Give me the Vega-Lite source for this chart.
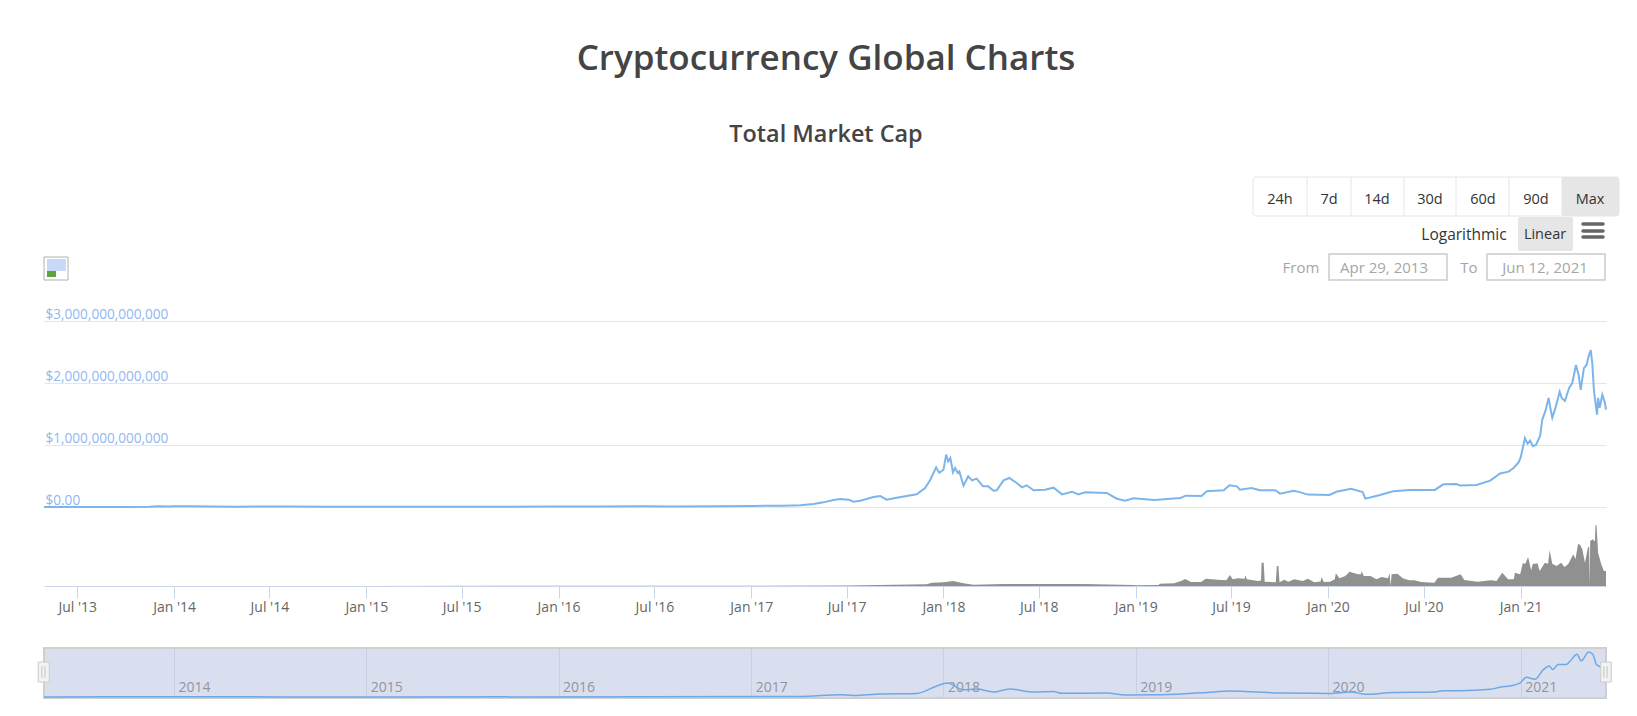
{
"$schema":"https://vega.github.io/schema/vega-lite/v6.json",
"background":"#ffffff",
"padding":{"left":36,"top":0,"right":0,"bottom":0},
"bounds":"flush",
"spacing":0,
"config":{"view":{"stroke":null},"font":"Open Sans","text":{"font":"Open Sans"}},
"datasets":{
"ui":[
{"k":"fill","c":26,"c2":32,"r":2,"r2":4},
{"k":"fill","c":23,"c2":27,"r":5,"r2":10},
{"k":"box","c":6,"c2":32,"r":2,"r2":4},
{"k":"div","c":9,"r":2,"r2":4},{"k":"div","c":11,"r":2,"r2":4},{"k":"div","c":14,"r":2,"r2":4},{"k":"div","c":17,"r":2,"r2":4},{"k":"div","c":22,"r":2,"r2":4},{"k":"div","c":26,"r":2,"r2":4},
{"k":"input","c":10,"c2":16,"r":11,"r2":17},
{"k":"input","c":21,"c2":31,"r":11,"r2":17},
{"k":"menu","c":28,"c2":30,"r":6},{"k":"menu","c":28,"c2":30,"r":7},{"k":"menu","c":28,"c2":30,"r":9},
{"k":"iconframe","c":0,"c2":4,"r":12,"r2":17},
{"k":"iconsky","c":1,"c2":3,"r":13,"r2":15},
{"k":"icongrass","c":1,"c2":2,"r":15,"r2":16},
{"k":"h1","t":"Cryptocurrency Global Charts","c":5,"r":0},
{"k":"h2","t":"Total Market Cap","c":5,"r":1},
{"k":"btn","t":"24h","c":7,"r":3},{"k":"btn","t":"7d","c":10,"r":3},{"k":"btn","t":"14d","c":12,"r":3},{"k":"btn","t":"30d","c":15,"r":3},{"k":"btn","t":"60d","c":20,"r":3},{"k":"btn","t":"90d","c":24,"r":3},{"k":"btn","t":"Max","c":29,"r":3},
{"k":"opt","t":"Logarithmic","c":18,"r":8},{"k":"btn","t":"Linear","c":25,"r":8},
{"k":"muted","t":"From","c":8,"r":14},{"k":"muted","t":"Apr 29, 2013","c":13,"r":14},{"k":"muted","t":"To","c":19,"r":14},{"k":"muted","t":"Jun 12, 2021","c":25,"r":14}
],
"spacer":[],
"cap":[
{"d":"2013-04-29","v":1.5e9},{"d":"2013-07-01","v":1.2e9},{"d":"2013-10-01","v":1.7e9},{"d":"2013-11-15","v":5e9},{"d":"2013-12-04","v":14e9},{"d":"2013-12-20","v":8e9},{"d":"2014-01-06","v":11e9},{"d":"2014-02-01","v":11e9},{"d":"2014-03-15","v":9e9},{"d":"2014-05-01","v":6e9},{"d":"2014-06-05","v":9e9},{"d":"2014-08-01","v":8e9},{"d":"2014-10-15","v":5e9},{"d":"2015-01-15","v":3e9},{"d":"2015-03-15","v":3.7e9},{"d":"2015-07-10","v":4.5e9},{"d":"2015-10-01","v":3.5e9},{"d":"2015-12-15","v":6.5e9},{"d":"2016-03-15","v":7e9},{"d":"2016-06-16","v":12e9},{"d":"2016-08-01","v":10e9},{"d":"2016-11-01","v":12e9},{"d":"2016-12-31","v":17e9},{"d":"2017-01-05","v":18e9},{"d":"2017-03-01","v":21e9},
{"d":"2017-04-04","v":0.027e12},{"d":"2017-04-29","v":0.05e12},{"d":"2017-05-18","v":0.075e12},{"d":"2017-06-06","v":0.113e12},{"d":"2017-06-19","v":0.13e12},{"d":"2017-07-05","v":0.118e12},{"d":"2017-07-14","v":0.086e12},{"d":"2017-07-27","v":0.1e12},{"d":"2017-08-21","v":0.16e12},{"d":"2017-09-03","v":0.177e12},{"d":"2017-09-15","v":0.118e12},{"d":"2017-10-04","v":0.15e12},{"d":"2017-10-23","v":0.177e12},{"d":"2017-11-11","v":0.204e12},{"d":"2017-11-27","v":0.306e12},{"d":"2017-12-07","v":0.44e12},{"d":"2017-12-18","v":0.64e12},{"d":"2017-12-24","v":0.55e12},{"d":"2018-01-01","v":0.6e12},{"d":"2018-01-06","v":0.844e12},{"d":"2018-01-10","v":0.737e12},{"d":"2018-01-14","v":0.79e12},{"d":"2018-01-19","v":0.56e12},{"d":"2018-01-23","v":0.63e12},{"d":"2018-01-28","v":0.55e12},{"d":"2018-01-31","v":0.575e12},{"d":"2018-02-08","v":0.344e12},{"d":"2018-02-17","v":0.495e12},{"d":"2018-02-24","v":0.43e12},{"d":"2018-03-05","v":0.457e12},{"d":"2018-03-17","v":0.333e12},{"d":"2018-03-27","v":0.333e12},{"d":"2018-04-06","v":0.263e12},{"d":"2018-04-12","v":0.27e12},{"d":"2018-04-25","v":0.43e12},{"d":"2018-05-06","v":0.468e12},{"d":"2018-05-20","v":0.387e12},{"d":"2018-05-30","v":0.317e12},{"d":"2018-06-08","v":0.35e12},{"d":"2018-06-21","v":0.27e12},{"d":"2018-07-13","v":0.28e12},{"d":"2018-07-29","v":0.312e12},{"d":"2018-08-14","v":0.204e12},{"d":"2018-09-02","v":0.247e12},{"d":"2018-09-14","v":0.204e12},{"d":"2018-09-27","v":0.237e12},{"d":"2018-11-07","v":0.226e12},{"d":"2018-11-26","v":0.134e12},{"d":"2018-12-12","v":0.102e12},{"d":"2018-12-28","v":0.14e12},{"d":"2019-02-05","v":0.113e12},{"d":"2019-03-27","v":0.145e12},{"d":"2019-04-06","v":0.183e12},{"d":"2019-05-06","v":0.177e12},{"d":"2019-05-16","v":0.253e12},{"d":"2019-06-17","v":0.27e12},{"d":"2019-06-28","v":0.35e12},{"d":"2019-07-12","v":0.333e12},{"d":"2019-07-18","v":0.28e12},{"d":"2019-08-09","v":0.306e12},{"d":"2019-08-25","v":0.27e12},{"d":"2019-09-23","v":0.27e12},{"d":"2019-10-02","v":0.215e12},{"d":"2019-10-28","v":0.26e12},
{"d":"2019-11-08","v":0.24e12},{"d":"2019-11-24","v":0.2e12},{"d":"2020-01-04","v":0.195e12},{"d":"2020-01-17","v":0.245e12},{"d":"2020-02-14","v":0.295e12},{"d":"2020-03-07","v":0.24e12},{"d":"2020-03-12","v":0.135e12},{"d":"2020-04-09","v":0.195e12},{"d":"2020-05-04","v":0.255e12},{"d":"2020-06-05","v":0.275e12},{"d":"2020-07-22","v":0.275e12},{"d":"2020-08-07","v":0.366e12},{"d":"2020-09-01","v":0.37e12},{"d":"2020-09-08","v":0.345e12},{"d":"2020-10-09","v":0.355e12},{"d":"2020-11-04","v":0.425e12},{"d":"2020-11-23","v":0.54e12},{"d":"2020-12-09","v":0.57e12},{"d":"2020-12-18","v":0.625e12},{"d":"2020-12-28","v":0.72e12},
{"d":"2021-01-01","v":0.8e12},{"d":"2021-01-04","v":0.91e12},{"d":"2021-01-09","v":1.11e12},{"d":"2021-01-14","v":1.02e12},{"d":"2021-01-19","v":1.07e12},{"d":"2021-01-24","v":0.98e12},{"d":"2021-01-30","v":1.0e12},{"d":"2021-02-07","v":1.15e12},{"d":"2021-02-11","v":1.41e12},{"d":"2021-02-17","v":1.55e12},{"d":"2021-02-23","v":1.76e12},{"d":"2021-02-27","v":1.57e12},{"d":"2021-03-02","v":1.44e12},{"d":"2021-03-07","v":1.57e12},{"d":"2021-03-12","v":1.73e12},{"d":"2021-03-16","v":1.86e12},{"d":"2021-03-20","v":1.76e12},{"d":"2021-03-26","v":1.71e12},{"d":"2021-04-03","v":1.92e12},{"d":"2021-04-09","v":2.0e12},{"d":"2021-04-16","v":2.29e12},{"d":"2021-04-21","v":2.13e12},{"d":"2021-04-25","v":1.89e12},{"d":"2021-05-01","v":2.24e12},{"d":"2021-05-06","v":2.29e12},{"d":"2021-05-10","v":2.43e12},{"d":"2021-05-14","v":2.53e12},{"d":"2021-05-17","v":2.32e12},{"d":"2021-05-20","v":1.89e12},{"d":"2021-05-23","v":1.68e12},{"d":"2021-05-26","v":1.49e12},{"d":"2021-05-28","v":1.76e12},{"d":"2021-05-31","v":1.6e12},{"d":"2021-06-05","v":1.81e12},{"d":"2021-06-10","v":1.68e12},{"d":"2021-06-12","v":1.57e12}
],
"vol":[
{"d":"2013-04-29","v":0.3},{"d":"2014-01-01","v":0.6},{"d":"2015-01-01","v":1},{"d":"2016-01-01","v":1.5},{"d":"2017-01-01","v":2},{"d":"2017-07-01","v":5},{"d":"2017-11-30","v":15},{"d":"2017-12-10","v":30},{"d":"2018-01-01","v":33},{"d":"2018-01-19","v":45},{"d":"2018-02-08","v":24},{"d":"2018-02-27","v":12},{"d":"2018-04-25","v":18},{"d":"2018-07-29","v":18},{"d":"2018-09-24","v":18},{"d":"2018-12-28","v":8},
{"d":"2019-01-01","v":6},{"d":"2019-02-14","v":8},{"d":"2019-02-15","v":21},{"d":"2019-03-15","v":24},{"d":"2019-03-28","v":45},{"d":"2019-04-05","v":63},{"d":"2019-04-16","v":36},{"d":"2019-05-05","v":36},{"d":"2019-05-14","v":66},{"d":"2019-06-06","v":57},{"d":"2019-06-22","v":51},{"d":"2019-06-29","v":99},{"d":"2019-07-04","v":60},{"d":"2019-07-14","v":69},{"d":"2019-07-27","v":66},{"d":"2019-07-28","v":96},{"d":"2019-07-31","v":60},{"d":"2019-08-21","v":45},{"d":"2019-08-27","v":50},{"d":"2019-08-28","v":210},{"d":"2019-09-01","v":210},{"d":"2019-09-03","v":39},{"d":"2019-09-24","v":33},{"d":"2019-09-26","v":180},{"d":"2019-09-29","v":180},{"d":"2019-10-01","v":33},{"d":"2019-10-10","v":57},{"d":"2019-10-18","v":39},{"d":"2019-10-29","v":60},{"d":"2019-11-14","v":45},{"d":"2019-11-24","v":66},{"d":"2019-12-06","v":33},{"d":"2019-12-18","v":40},{"d":"2019-12-20","v":81},{"d":"2019-12-24","v":36},{"d":"2020-01-05","v":39},{"d":"2020-01-14","v":60},{"d":"2020-01-16","v":114},{"d":"2020-01-23","v":69},{"d":"2020-02-03","v":90},{"d":"2020-02-11","v":129},{"d":"2020-02-27","v":105},{"d":"2020-03-04","v":105},{"d":"2020-03-05","v":135},{"d":"2020-03-09","v":90},{"d":"2020-03-22","v":90},{"d":"2020-04-02","v":60},{"d":"2020-04-12","v":81},{"d":"2020-04-24","v":69},{"d":"2020-04-27","v":114},{"d":"2020-04-29","v":3},{"d":"2020-05-01","v":105},{"d":"2020-05-12","v":111},{"d":"2020-05-22","v":69},{"d":"2020-06-03","v":51},{"d":"2020-06-13","v":51},{"d":"2020-06-26","v":36},{"d":"2020-07-21","v":30},{"d":"2020-07-28","v":75},{"d":"2020-08-22","v":75},{"d":"2020-09-09","v":105},{"d":"2020-09-16","v":54},{"d":"2020-10-11","v":39},{"d":"2020-11-06","v":51},{"d":"2020-11-16","v":45},{"d":"2020-11-27","v":120},{"d":"2020-12-08","v":60},{"d":"2020-12-19","v":60},{"d":"2020-12-21","v":120},{"d":"2020-12-31","v":105},
{"d":"2021-01-05","v":204},{"d":"2021-01-10","v":200},{"d":"2021-01-15","v":261},{"d":"2021-01-21","v":141},{"d":"2021-01-24","v":200},{"d":"2021-01-28","v":201},{"d":"2021-02-02","v":204},{"d":"2021-02-06","v":135},{"d":"2021-02-16","v":210},{"d":"2021-02-22","v":200},{"d":"2021-02-25","v":321},{"d":"2021-03-02","v":201},{"d":"2021-03-10","v":180},{"d":"2021-03-19","v":210},{"d":"2021-03-25","v":170},{"d":"2021-04-01","v":195},{"d":"2021-04-11","v":285},{"d":"2021-04-15","v":240},{"d":"2021-04-20","v":381},{"d":"2021-04-24","v":370},{"d":"2021-04-28","v":330},{"d":"2021-05-03","v":210},{"d":"2021-05-09","v":351},{"d":"2021-05-11","v":351},{"d":"2021-05-12","v":3},{"d":"2021-05-13","v":405},{"d":"2021-05-18","v":420},{"d":"2021-05-22","v":400},{"d":"2021-05-23","v":546},{"d":"2021-05-25","v":546},{"d":"2021-05-28","v":300},{"d":"2021-06-03","v":195},{"d":"2021-06-08","v":135},{"d":"2021-06-12","v":135}
],
"nav":[
{"d":"2013-04-29","v":1.5e9},{"d":"2014-01-06","v":11e9},{"d":"2015-01-15","v":3e9},{"d":"2016-06-16","v":12e9},{"d":"2017-04-04","v":0.027e12},{"d":"2017-06-19","v":0.13e12},{"d":"2017-07-14","v":0.09e12},{"d":"2017-09-03","v":0.17e12},{"d":"2017-11-11","v":0.2e12},{"d":"2017-12-18","v":0.6e12},{"d":"2018-01-08","v":0.78e12},{"d":"2018-02-08","v":0.4e12},{"d":"2018-03-05","v":0.44e12},{"d":"2018-04-06","v":0.28e12},{"d":"2018-05-06","v":0.45e12},{"d":"2018-06-21","v":0.28e12},{"d":"2018-07-29","v":0.3e12},{"d":"2018-08-14","v":0.21e12},{"d":"2018-11-07","v":0.22e12},{"d":"2018-12-12","v":0.11e12},{"d":"2019-02-05","v":0.12e12},{"d":"2019-04-06","v":0.18e12},{"d":"2019-05-16","v":0.25e12},{"d":"2019-06-28","v":0.33e12},{"d":"2019-08-09","v":0.29e12},{"d":"2019-10-02","v":0.22e12},{"d":"2020-01-04","v":0.2e12},{"d":"2020-02-14","v":0.28e12},{"d":"2020-03-12","v":0.15e12},{"d":"2020-05-04","v":0.25e12},{"d":"2020-07-22","v":0.28e12},{"d":"2020-08-07","v":0.35e12},{"d":"2020-09-08","v":0.35e12},{"d":"2020-11-04","v":0.43e12},{"d":"2020-11-23","v":0.54e12},{"d":"2020-12-18","v":0.65e12},{"d":"2020-12-31","v":0.78e12},{"d":"2021-01-12","v":1.1e12},{"d":"2021-01-28","v":0.98e12},{"d":"2021-02-13","v":1.52e12},{"d":"2021-02-24","v":1.72e12},{"d":"2021-03-03","v":1.52e12},{"d":"2021-03-13","v":1.8e12},{"d":"2021-03-28","v":1.8e12},{"d":"2021-04-05","v":2.0e12},{"d":"2021-04-18","v":2.37e12},{"d":"2021-04-26","v":2.0e12},{"d":"2021-05-10","v":2.5e12},{"d":"2021-05-18","v":2.37e12},{"d":"2021-05-25","v":1.8e12},{"d":"2021-06-02","v":1.67e12},{"d":"2021-06-12","v":1.63e12}
],
"handles":[
{"d1":"2013-04-18","d2":"2013-05-09","v1":0.83e12,"v2":1.94e12},
{"d1":"2021-06-02","d2":"2021-06-22","v1":0.83e12,"v2":1.94e12}
],
"grips":[
{"d":"2013-04-25","v1":1.06e12,"v2":1.72e12},{"d":"2013-05-01","v1":1.06e12,"v2":1.72e12},
{"d":"2021-06-08","v1":1.06e12,"v2":1.72e12},{"d":"2021-06-14","v1":1.06e12,"v2":1.72e12}
]
},
"vconcat":[
{"width":1593,"height":321,
"data":{"name":"ui"},
"encoding":{
"x":{"field":"c","type":"quantitative","axis":null,"scale":{"type":"linear","nice":false,"zero":false,"domain":[0,1,2,3,4,5,6,7,8,9,10,11,12,13,14,15,16,17,18,19,20,21,22,23,24,25,26,27,28,29,30,31,32],"range":[0,3,12,22,24,782,1209,1236,1257,1263,1285,1307,1333,1340,1360,1386,1403,1412,1420,1425,1439,1443,1465,1474,1492,1501,1518,1529,1539,1546,1559,1561,1575]}},
"y":{"field":"r","type":"quantitative","axis":null,"scale":{"type":"linear","nice":false,"zero":false,"domain":[0,1,2,3,4,5,6,7,8,9,10,11,12,13,14,15,16,17],"range":[57,133,177,198,216,217,224,231,233,237,251,254,257,259,267,271,277,280]}}
},
"layer":[
{"transform":[{"filter":"datum.k=='fill'"}],"mark":{"type":"rect","fill":"#e6e6e6","cornerRadius":2},"encoding":{"x2":{"field":"c2"},"y2":{"field":"r2"}}},
{"transform":[{"filter":"datum.k=='box'"}],"mark":{"type":"rect","fillOpacity":0,"stroke":"#e6e6e6","strokeWidth":1,"cornerRadius":3},"encoding":{"x2":{"field":"c2"},"y2":{"field":"r2"}}},
{"transform":[{"filter":"datum.k=='div'"}],"mark":{"type":"rule","stroke":"#e6e6e6","strokeWidth":1},"encoding":{"y2":{"field":"r2"}}},
{"transform":[{"filter":"datum.k=='input'"}],"mark":{"type":"rect","fillOpacity":0,"stroke":"#cccccc","strokeWidth":1.5},"encoding":{"x2":{"field":"c2"},"y2":{"field":"r2"}}},
{"transform":[{"filter":"datum.k=='menu'"}],"mark":{"type":"rule","stroke":"#666666","strokeWidth":3.5,"strokeCap":"round"},"encoding":{"x2":{"field":"c2"}}},
{"transform":[{"filter":"datum.k=='iconframe'"}],"mark":{"type":"rect","fill":"#ffffff","stroke":"#b0b0b0","strokeWidth":1},"encoding":{"x2":{"field":"c2"},"y2":{"field":"r2"}}},
{"transform":[{"filter":"datum.k=='iconsky'"}],"mark":{"type":"rect","fill":"#c9daf8"},"encoding":{"x2":{"field":"c2"},"y2":{"field":"r2"}}},
{"transform":[{"filter":"datum.k=='icongrass'"}],"mark":{"type":"rect","fill":"#5aa63c"},"encoding":{"x2":{"field":"c2"},"y2":{"field":"r2"}}},
{"transform":[{"filter":"datum.k=='h1'"}],"mark":{"type":"text","fontSize":35,"fontWeight":600,"color":"#444444","align":"center","baseline":"middle","dy":2},"encoding":{"text":{"field":"t"}}},
{"transform":[{"filter":"datum.k=='h2'"}],"mark":{"type":"text","fontSize":23.4,"fontWeight":600,"color":"#444444","align":"center","baseline":"middle","dy":2},"encoding":{"text":{"field":"t"}}},
{"transform":[{"filter":"datum.k=='btn'"}],"mark":{"type":"text","fontSize":14.5,"color":"#333333","align":"center","baseline":"middle","dy":2},"encoding":{"text":{"field":"t"}}},
{"transform":[{"filter":"datum.k=='opt'"}],"mark":{"type":"text","fontSize":15.5,"color":"#333333","align":"center","baseline":"middle","dy":2},"encoding":{"text":{"field":"t"}}},
{"transform":[{"filter":"datum.k=='muted'"}],"mark":{"type":"text","fontSize":15,"color":"#a6a6a6","align":"center","baseline":"middle","dy":1},"encoding":{"text":{"field":"t"}}}
]},
{"width":1562,"height":186,
"data":{"name":"cap"},
"mark":{"type":"line","stroke":"#7cb5ec","strokeWidth":2,"clip":false},
"encoding":{
"x":{"field":"d","type":"temporal","axis":null,"scale":{"type":"utc","domain":["2013-04-29","2021-06-12"],"nice":false}},
"y":{"field":"v","type":"quantitative","scale":{"domain":[0,3000000000000],"nice":false},
"axis":{"title":null,"orient":"left","values":[0,1000000000000,2000000000000,3000000000000],"domain":false,"ticks":false,"grid":true,"gridColor":"#e6e6e6","gridWidth":1,"labelAlign":"left","labelBaseline":"bottom","labelPadding":-1,"labelOffset":0,"labelColor":"#8fb8f2","labelFontSize":13.6,"labelFont":"Open Sans","labelExpr":"datum.value==0 ? '$0.00' : format(datum.value,'$,.0f')"}}
}},
{"width":1562,"height":79,
"data":{"name":"vol"},
"mark":{"type":"area","interpolate":"linear","fill":"#909090","clip":false},
"encoding":{
"x":{"field":"d","type":"temporal","scale":{"type":"utc","domain":["2013-04-29","2021-06-12"],"nice":false},
"axis":{"title":null,"values":["2013-07-01","2014-01-01","2014-07-01","2015-01-01","2015-07-01","2016-01-01","2016-07-01","2017-01-01","2017-07-01","2018-01-01","2018-07-01","2019-01-01","2019-07-01","2020-01-01","2020-07-01","2021-01-01"],"format":"%b '%y","domainColor":"#ccd6eb","domainWidth":1,"tickColor":"#ccd6eb","tickSize":12,"labelPadding":2,"labelFontSize":14,"labelColor":"#666666","labelFont":"Open Sans","labelFlush":false,"labelOverlap":false,"grid":false}},
"y":{"field":"v","type":"quantitative","axis":null,"scale":{"domain":[0,711],"nice":false}}
}},
{"width":1562,"height":62,
"data":{"name":"spacer"},
"mark":"point"
},
{"width":1562,"height":50,
"view":{"fill":"#d9dfee","stroke":"#cfcfcf","strokeWidth":2},
"layer":[
{"data":{"name":"nav"},
"mark":{"type":"line","stroke":"#6fa8e6","strokeWidth":1.5,"interpolate":"monotone","clip":false},
"encoding":{
"x":{"field":"d","type":"temporal","scale":{"type":"utc","domain":["2013-04-29","2021-06-12"],"nice":false},
"axis":{"title":null,"values":["2014-01-01","2015-01-01","2016-01-01","2017-01-01","2018-01-01","2019-01-01","2020-01-01","2021-01-01"],"format":"%Y","domain":false,"ticks":false,"grid":true,"gridColor":"#c8cfe0","gridWidth":1,"labelAlign":"left","labelBaseline":"top","labelPadding":-18,"labelOffset":4,"labelColor":"#92959f","labelFontSize":14,"labelFont":"Open Sans","labelFlush":false,"labelOverlap":false}},
"y":{"field":"v","type":"quantitative","axis":null,"scale":{"domain":[-55000000000,2720000000000],"nice":false,"zero":false}}
}},
{"data":{"name":"handles"},
"mark":{"type":"rect","fill":"#f2f2f2","stroke":"#cccccc","strokeWidth":1,"clip":false},
"encoding":{"x":{"field":"d1","type":"temporal"},"x2":{"field":"d2"},"y":{"field":"v1","type":"quantitative"},"y2":{"field":"v2"}}},
{"data":{"name":"grips"},
"mark":{"type":"rule","stroke":"#c4c4c4","strokeWidth":1,"clip":false},
"encoding":{"x":{"field":"d","type":"temporal"},"y":{"field":"v1","type":"quantitative"},"y2":{"field":"v2"}}}
]}
]
}
